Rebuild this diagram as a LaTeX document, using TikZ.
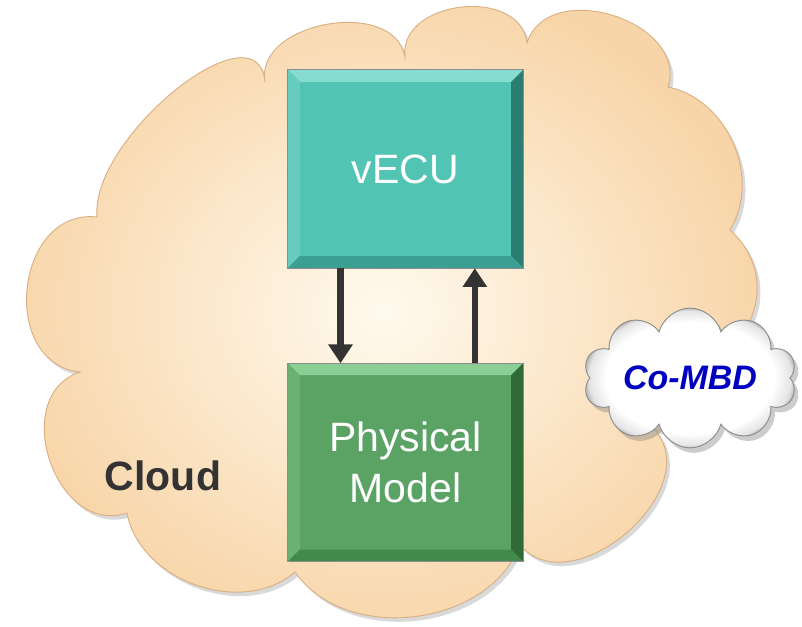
\documentclass[tikz,border=0pt]{standalone}
\usepackage{fontspec}
\setmainfont{Liberation Sans}
\usetikzlibrary{arrows.meta}
\usetikzlibrary{positioning}
\usetikzlibrary{shapes.symbols,shadows}
\usepackage{xcolor}
\definecolor{cloudin}{HTML}{FFFAEE}
\definecolor{cloudout}{HTML}{F8D5A8}
\definecolor{cloudedge}{HTML}{D9B084}
\definecolor{vecufill}{HTML}{52C4B4}
\definecolor{vecutop}{HTML}{86DCCF}
\definecolor{veculeft}{HTML}{66CDBE}
\definecolor{vecuright}{HTML}{2A7D71}
\definecolor{vecubot}{HTML}{3B9F91}
\definecolor{physfill}{HTML}{5AA364}
\definecolor{phystop}{HTML}{8CCF94}
\definecolor{physleft}{HTML}{6BB174}
\definecolor{physright}{HTML}{2F6A37}
\definecolor{physbot}{HTML}{428A4B}
\definecolor{linkgray}{HTML}{333333}
\definecolor{labelgray}{HTML}{333333}
\definecolor{combdblue}{HTML}{0000C0}
\definecolor{puffrim}{HTML}{E4E4E4}
\definecolor{puffedge}{HTML}{BDBDBD}

% white puff with a grey rim
\pgfdeclareradialshading{puff}{\pgfpoint{0cm}{0cm}}{color(0bp)=(white); color(20bp)=(white); color(24bp)=(puffrim); color(25bp)=(puffedge); color(50bp)=(puffedge)}

% bevelled edges of a block: node, top, left, right, bottom
\newcommand{\bevelbox}[5]{%
  \fill[#2] (#1.north west) -- (#1.north east) -- ([shift={(-12,12)}]#1.north east) -- ([shift={(12,12)}]#1.north west) -- cycle;
  \fill[#3] (#1.north west) -- ([shift={(12,12)}]#1.north west) -- ([shift={(12,-12)}]#1.south west) -- (#1.south west) -- cycle;
  \fill[#4] (#1.north east) -- (#1.south east) -- ([shift={(-12,-12)}]#1.south east) -- ([shift={(-12,12)}]#1.north east) -- cycle;
  \fill[#5] (#1.south west) -- ([shift={(12,-12)}]#1.south west) -- ([shift={(-12,-12)}]#1.south east) -- (#1.south east) -- cycle;
  \draw[black!45, line width=0.6pt] (#1.north west) rectangle (#1.south east);
}

\begin{document}
\begin{tikzpicture}[x=0.03cm, y=-0.03cm,
    >={Triangle[width=20pt,length=16pt]},
    block/.style={rectangle, minimum width=7.05cm, minimum height=5.94cm, inner sep=0pt,
      align=center, text=white, font=\fontsize{35}{44}\selectfont},
    link/.style={->, line width=5.5pt, draw=linkgray},
    cloudtag/.style={cloud, cloud puffs=10, aspect=1.9, inner sep=0pt,
      minimum width=6.4cm, minimum height=3.6cm, shading=puff, draw=black!45, line width=0.8pt,
      drop shadow={opacity=0.4, shadow xshift=0.12cm, shadow yshift=-0.15cm},
      text=combdblue, font=\bfseries\itshape\fontsize{29}{32}\selectfont}]
  \useasboundingbox (0,0) rectangle (802,627);

  % big cloud
  \path[draw=cloudedge, line width=0.8pt, inner color=cloudin, outer color=cloudout,
        drop shadow={opacity=0.3, shadow xshift=0.1cm, shadow yshift=-0.12cm}]
    (97,217) to[out=95, in=95, looseness=0.95] (265,82)
    to[bend left=90, looseness=1.1] (405,57)
    to[bend left=90, looseness=1.2] (527,43) to[bend left=90, looseness=1.2] (668,87)
    to[bend left=55] (730,230) to[bend left=40] (745,330)
    to[bend left=50] (655,430) to[bend left=90, looseness=1.15] (520,545)
    to[bend left=62] (295,572) to[bend left=60] (127,513)
    to[bend left=90, looseness=1.3] (80,372) to[bend left=90, looseness=1.35] (97,217) -- cycle;

  \node[block, fill=vecufill] (vecu) at (405.5,169) {vECU};
  \node[block, fill=physfill, below=2.85cm of vecu] (phys) {Physical\\Model};
  \bevelbox{vecu}{vecutop}{veculeft}{vecuright}{vecubot}
  \bevelbox{phys}{phystop}{physleft}{physright}{physbot}

  \draw[link] ([xshift=-1.95cm]vecu.south) -- ([xshift=-1.95cm]phys.north);
  \draw[link] ([xshift=2.08cm]phys.north) -- ([xshift=2.08cm]vecu.south);

  \node[text=labelgray, font=\bfseries\fontsize{35}{40}\selectfont] (cloudlbl) at (163,476) {Cloud};
  \node[cloudtag] (combd) at (690,378) {Co-MBD};
\end{tikzpicture}
\end{document}
